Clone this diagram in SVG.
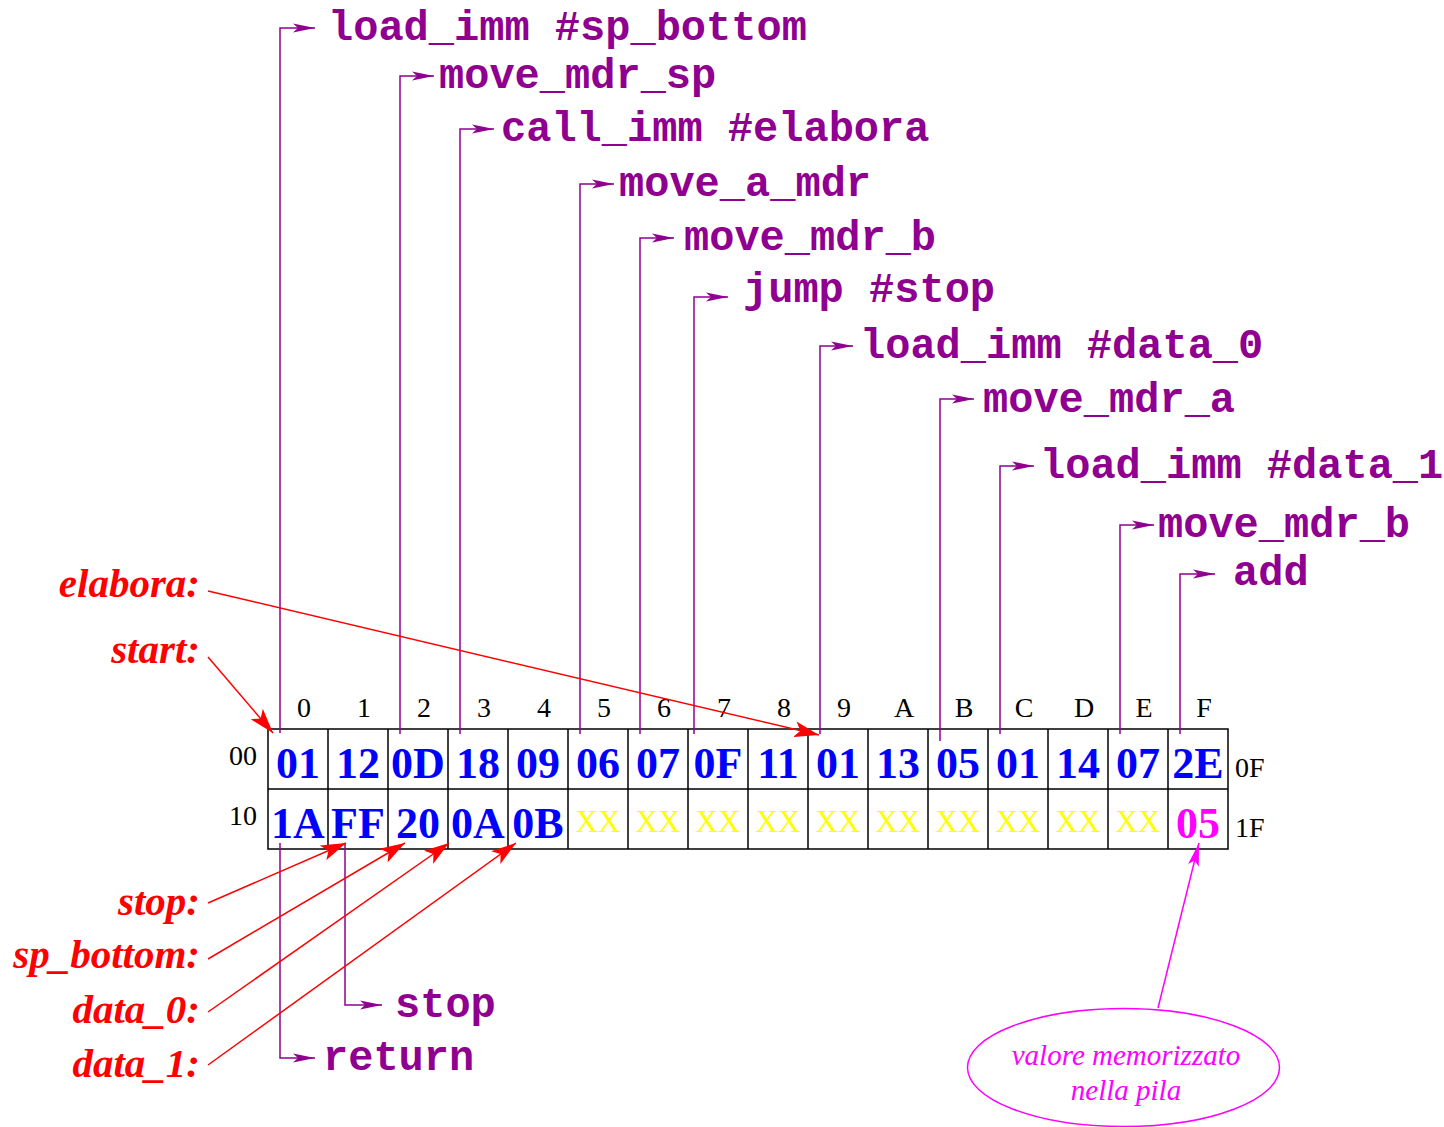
<svg xmlns="http://www.w3.org/2000/svg" width="1444" height="1127" viewBox="0 0 1444 1127">
<style>
.ins{font-family:"Liberation Mono","Courier New",monospace;font-weight:bold;font-size:42px;fill:#900090}
.lbl{font-family:"Liberation Serif","Times New Roman",serif;font-weight:bold;font-style:italic;font-size:41px;fill:#ff0000;text-anchor:end}
.hdr{font-family:"Liberation Serif","Times New Roman",serif;font-size:28px;fill:#000;text-anchor:middle}
.side{font-family:"Liberation Serif","Times New Roman",serif;font-size:28px;fill:#000}
.val{font-family:"Liberation Serif","Times New Roman",serif;font-weight:bold;font-size:44px;fill:#0000ff;text-anchor:middle}
.xx{font-family:"Liberation Serif","Times New Roman",serif;font-size:31px;fill:#ffff00;text-anchor:middle}
.mag{fill:#ff00ff}
.note{font-family:"Liberation Serif","Times New Roman",serif;font-style:italic;font-size:29px;fill:#ff00ff;text-anchor:middle}
.cell{fill:none;stroke:#000;stroke-width:1.5}
.pl{fill:none;stroke:#900090;stroke-width:1.5;marker-end:url(#ap)}
.rl{fill:none;stroke:#ff0000;stroke-width:1.5;marker-end:url(#ar)}
.ml{fill:none;stroke:#ff00ff;stroke-width:1.5;marker-end:url(#am)}
</style>
<defs>
<marker id="ap" markerUnits="userSpaceOnUse" markerWidth="23" markerHeight="11" viewBox="0 0 23 11" refX="22" refY="5.5" orient="auto"><path d="M0,1 L22,5.5 L0,10 L5,5.5 z" fill="#900090"/></marker>
<marker id="ar" markerUnits="userSpaceOnUse" markerWidth="26" markerHeight="18" viewBox="0 0 26 18" refX="25" refY="9" orient="auto"><path d="M0,1 L25,9 L0,17 L6,9 z" fill="#ff0000"/></marker>
<marker id="am" markerUnits="userSpaceOnUse" markerWidth="24" markerHeight="14" viewBox="0 0 24 14" refX="23" refY="7" orient="auto"><path d="M0,1.5 L23,7 L0,12.5 L5,7 z" fill="#ff00ff"/></marker>
</defs>
<rect width="1444" height="1127" fill="#fff"/>

<g id="memory">
<g id="grid">
<rect class="cell" x="268" y="729" width="960" height="120"/>
<path class="cell" d="M268,789 H1228 M328,729 V849 M388,729 V849 M448,729 V849 M508,729 V849 M568,729 V849 M628,729 V849 M688,729 V849 M748,729 V849 M808,729 V849 M868,729 V849 M928,729 V849 M988,729 V849 M1048,729 V849 M1108,729 V849 M1168,729 V849"/>
</g>
<g id="headers">
<text class="hdr" x="304" y="717">0</text>
<text class="hdr" x="364" y="717">1</text>
<text class="hdr" x="424" y="717">2</text>
<text class="hdr" x="484" y="717">3</text>
<text class="hdr" x="544" y="717">4</text>
<text class="hdr" x="604" y="717">5</text>
<text class="hdr" x="664" y="717">6</text>
<text class="hdr" x="724" y="717">7</text>
<text class="hdr" x="784" y="717">8</text>
<text class="hdr" x="844" y="717">9</text>
<text class="hdr" x="904" y="717">A</text>
<text class="hdr" x="964" y="717">B</text>
<text class="hdr" x="1024" y="717">C</text>
<text class="hdr" x="1084" y="717">D</text>
<text class="hdr" x="1144" y="717">E</text>
<text class="hdr" x="1204" y="717">F</text>
<text class="side" x="229" y="765">00</text>
<text class="side" x="229" y="825">10</text>
<text class="side" x="1235" y="777">0F</text>
<text class="side" x="1235" y="837">1F</text>
</g>
<g id="row0">
<text class="val" x="298" y="778">01</text>
<text class="val" x="358" y="778">12</text>
<text class="val" x="418" y="778">0D</text>
<text class="val" x="478" y="778">18</text>
<text class="val" x="538" y="778">09</text>
<text class="val" x="598" y="778">06</text>
<text class="val" x="658" y="778">07</text>
<text class="val" x="718" y="778">0F</text>
<text class="val" x="778" y="778">11</text>
<text class="val" x="838" y="778">01</text>
<text class="val" x="898" y="778">13</text>
<text class="val" x="958" y="778">05</text>
<text class="val" x="1018" y="778">01</text>
<text class="val" x="1078" y="778">14</text>
<text class="val" x="1138" y="778">07</text>
<text class="val" x="1198" y="778">2E</text>
</g>
<g id="row1">
<text class="val" x="298" y="838">1A</text>
<text class="val" x="358" y="838">FF</text>
<text class="val" x="418" y="838">20</text>
<text class="val" x="478" y="838">0A</text>
<text class="val" x="538" y="838">0B</text>
<text class="xx" x="598" y="832">XX</text>
<text class="xx" x="658" y="832">XX</text>
<text class="xx" x="718" y="832">XX</text>
<text class="xx" x="778" y="832">XX</text>
<text class="xx" x="838" y="832">XX</text>
<text class="xx" x="898" y="832">XX</text>
<text class="xx" x="958" y="832">XX</text>
<text class="xx" x="1018" y="832">XX</text>
<text class="xx" x="1078" y="832">XX</text>
<text class="xx" x="1138" y="832">XX</text>
<text class="val mag" x="1198" y="838">05</text>
</g>
</g>

<g id="instructions">
<g id="i-load-sp"><text class="ins" x="328" y="40">load_imm #sp_bottom</text></g>
<g id="i-move-mdr-sp"><text class="ins" x="439" y="88">move_mdr_sp</text></g>
<g id="i-call"><text class="ins" x="501" y="141">call_imm #elabora</text></g>
<g id="i-move-a-mdr"><text class="ins" x="619" y="196">move_a_mdr</text></g>
<g id="i-move-mdr-b1"><text class="ins" x="684" y="250">move_mdr_b</text></g>
<g id="i-jump"><text class="ins" x="743" y="302">jump #stop</text></g>
<g id="i-load-d0"><text class="ins" x="860" y="358">load_imm #data_0</text></g>
<g id="i-move-mdr-a"><text class="ins" x="983" y="412">move_mdr_a</text></g>
<g id="i-load-d1"><text class="ins" x="1040" y="478">load_imm #data_1</text></g>
<g id="i-move-mdr-b2"><text class="ins" x="1158" y="537">move_mdr_b</text></g>
<g id="i-add"><text class="ins" x="1233" y="585">add</text></g>
<g id="i-stop"><text class="ins" x="395" y="1017">stop</text></g>
<g id="i-return"><text class="ins" x="323" y="1070">return</text></g>
</g>

<g id="labels">
<g id="l-elabora"><text class="lbl" x="200" y="597">elabora:</text></g>
<g id="l-start"><text class="lbl" x="200" y="663">start:</text></g>
<g id="l-stop"><text class="lbl" x="200" y="915">stop:</text></g>
<g id="l-sp-bottom"><text class="lbl" x="200" y="968">sp_bottom:</text></g>
<g id="l-data0"><text class="lbl" x="200" y="1023">data_0:</text></g>
<g id="l-data1"><text class="lbl" x="200" y="1077">data_1:</text></g>
</g>

<g id="note">
<ellipse cx="1123.5" cy="1067.5" rx="156" ry="59" fill="none" stroke="#ff00ff" stroke-width="1.5"/>
<text class="note" x="1126" y="1065">valore memorizzato</text>
<text class="note" x="1126" y="1100">nella pila</text>
</g>

<g id="connectors">
<path class="pl" d="M280,733 V28 H315"/>
<path class="pl" d="M400,734 V76 H434"/>
<path class="pl" d="M460,734 V129 H494"/>
<path class="pl" d="M580,734 V184 H614"/>
<path class="pl" d="M640,734 V238 H674"/>
<path class="pl" d="M694,734 V297 H728"/>
<path class="pl" d="M820,734 V346 H853"/>
<path class="pl" d="M940,741 V399 H974"/>
<path class="pl" d="M1000,734 V466 H1034"/>
<path class="pl" d="M1120,734 V525 H1154"/>
<path class="pl" d="M1180,734 V574 H1215"/>
<path class="pl" d="M280,843 V1058 H315"/>
<path class="pl" d="M345,843 V1005 H382"/>
<path class="rl" d="M208,591 L819,735"/>
<path class="rl" d="M208,657 L273,733"/>
<path class="rl" d="M208,903 L346,843"/>
<path class="rl" d="M208,959 L405,843"/>
<path class="rl" d="M208,1012 L449,843"/>
<path class="rl" d="M208,1065 L516,843"/>
<path class="ml" d="M1158,1008 L1199,843"/>
</g>
</svg>
